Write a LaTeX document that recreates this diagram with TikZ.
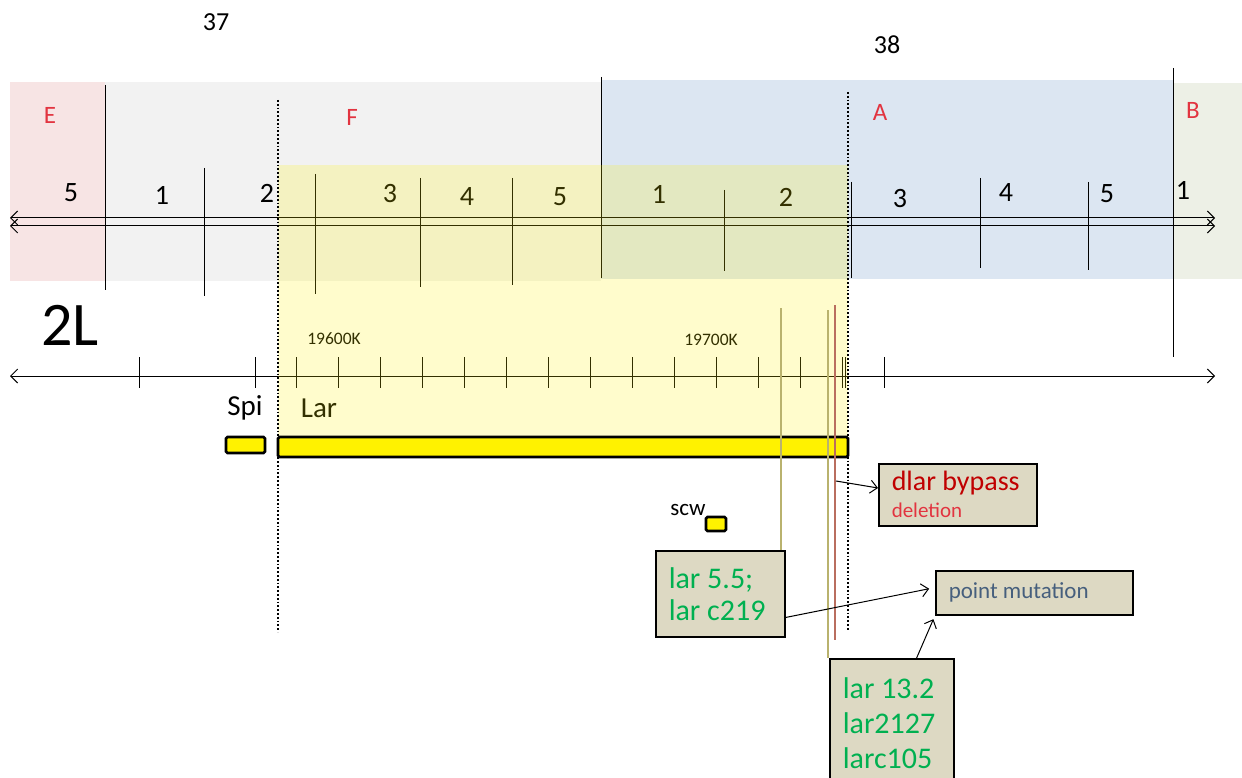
\documentclass[tikz,border=0pt]{standalone}
\usepackage{fontspec}
\setmainfont{Carlito}
\usetikzlibrary{positioning, calc, arrows.meta}
\definecolor{bandE}{RGB}{247,228,228}
\definecolor{bandF}{RGB}{242,242,242}
\definecolor{bandA}{RGB}{220,230,242}
\definecolor{bandB}{RGB}{237,240,230}
\definecolor{regRed}{RGB}{226,52,64}
\definecolor{alleleGreen}{RGB}{0,176,80}
\definecolor{noteTan}{RGB}{221,217,195}
\definecolor{delRed}{RGB}{192,0,0}
\definecolor{noteBlue}{RGB}{70,95,125}
\definecolor{siteOlive}{RGB}{185,178,110}
\definecolor{siteBrown}{RGB}{185,110,95}

\begin{document}
\begin{tikzpicture}[x=1pt, y=-1pt, line width=1pt,
    region/.style={font=\fontsize{25}{25}\selectfont, text=regRed, inner sep=0pt},
    exon/.style={font=\fontsize{28}{28}\selectfont, inner sep=0pt},
    gene/.style={draw=black, line width=2.8pt, fill=yellow, rounded corners=1.5pt},
    genelabel/.style={font=\fontsize{29}{29}\selectfont, inner sep=0pt},
    note/.style={draw=black, line width=1.5pt, fill=noteTan, anchor=north west,
                 align=flush left, inner xsep=13pt, inner ysep=0pt},
    site/.style={line width=1.3pt},
    barb/.style={-{Straight Barb[length=7pt, width=13pt]}, line width=1pt},
    dblbarb/.style={{Straight Barb[length=7pt, width=14pt]}-{Straight Barb[length=7pt, width=14pt]}},
  ]
    \useasboundingbox (0,0) rectangle (1242,778);

    \fill[bandE] (10,82) rectangle (105,281);
    \fill[bandF] (105,82) rectangle (601,281);
    \fill[bandA] (601,80) rectangle (1173,279);
    \fill[bandB] (1173,83) rectangle (1242,279);

    \node[font=\fontsize{26}{26}\selectfont, inner sep=0pt] (C37) at (216,22) {37};
    \node[font=\fontsize{26}{26}\selectfont, inner sep=0pt] (C38) at (887,45) {38};

    \node[region] (E) at (50,115) {E};
    \node[region] (F) at (352,117) {F};
    \node[region] (A) at (880,112) {A};
    \node[region] (B) at (1193,110) {B};

    \draw[dblbarb] (10,218) -- (1215,218);
    \draw[dblbarb] (10,226) -- (1215,226);

    \draw (105,85) -- (105,290);
    \draw (601,77) -- (601,278);
    \draw (1173,68) -- (1173,357);
    \foreach \x/\ya/\yb in {204/168/296, 315/174/294, 420/178/287, 512/178/285,
                            724/190/271, 851/182/278, 980/178/268, 1088/182/270}
      \draw (\x,\ya) -- (\x,\yb);

    \foreach \x/\y/\t in {71/193/5, 162/195/1, 267/193/2, 390/194/3, 467/197/4, 560/197/5,
                          659/194/1, 786/197/2, 900/199/3, 1006/193/4, 1107/194/5, 1183/190/1}
      \node[exon] (X\x) at (\x,\y) {\t};

    \node[font=\fontsize{62}{62}\selectfont, inner sep=0pt] (CHR) at (70,325) {2L};

    \draw[dblbarb] (10,376) -- (1215,376);
    \foreach \x in {139,255,296,338,380,422,464,506,548,590,632,674,716,758,800,842,845,884}
      \draw (\x,357) -- (\x,388);
    \node[font=\fontsize{17.5}{17.5}\selectfont, inner sep=0pt] (K196) at (334,339) {19600K};
    \node[font=\fontsize{17.5}{17.5}\selectfont, inner sep=0pt] (K197) at (711,340) {19700K};

    \node[genelabel] (SPIL) at (245,408) {Spi};
    \node[genelabel] (LARL) at (319,408) {Lar};
    \node[font=\fontsize{23}{23}\selectfont, inner sep=0pt] (SCWL) at (688,510) {scw};

    \fill[yellow, fill opacity=0.2] (278,165) rectangle (848,437);

    \draw[line width=1.8pt, dotted] (278,100) -- (278,632);
    \draw[line width=1.8pt, dotted] (848,92) -- (848,630);

    \draw[gene] (226,437) rectangle (265,453);
    \draw[gene] (278,437) rectangle (848,457);
    \draw[gene] (706,517) rectangle (726,531);

    \draw[site, siteOlive] (781,308) -- (781,550);
    \draw[site, siteOlive] (828,310) -- (828,658);
    \draw[site, siteBrown] (835,305) -- (835,640);

    \node[note, minimum width=158, minimum height=62, text width=132,
          font=\fontsize{28}{27}\selectfont] (DLAR) at (878,463)
      {\textcolor{delRed}{dlar bypass}\\
       \color{regRed}\fontsize{21}{27}\selectfont deletion};
    \node[note, minimum width=129, minimum height=86, text width=103, text=alleleGreen,
          font=\fontsize{30}{32}\selectfont] (L55) at (655,550)
      {lar 5.5;\\lar c219};
    \node[note, minimum width=197, minimum height=44, text width=171, text=noteBlue,
          font=\fontsize{23}{23}\selectfont] (PM) at (935,570)
      {point mutation};
    \node[note, minimum width=124, minimum height=128, text width=98, text=alleleGreen,
          font=\fontsize{30}{35}\selectfont] (L132) at (829,658)
      {lar 13.2\\lar2127\\larc105};

    \coordinate (DELCUT) at (836,481);
    \draw[barb] (DELCUT) -- (DLAR.west |- 0,488);
    \draw[barb, shorten >=6pt] (L55.-20) -- (PM.177);
    \draw[barb, shorten >=4pt] (L132.69) -- (PM.south west);
  \end{tikzpicture}
\end{document}
